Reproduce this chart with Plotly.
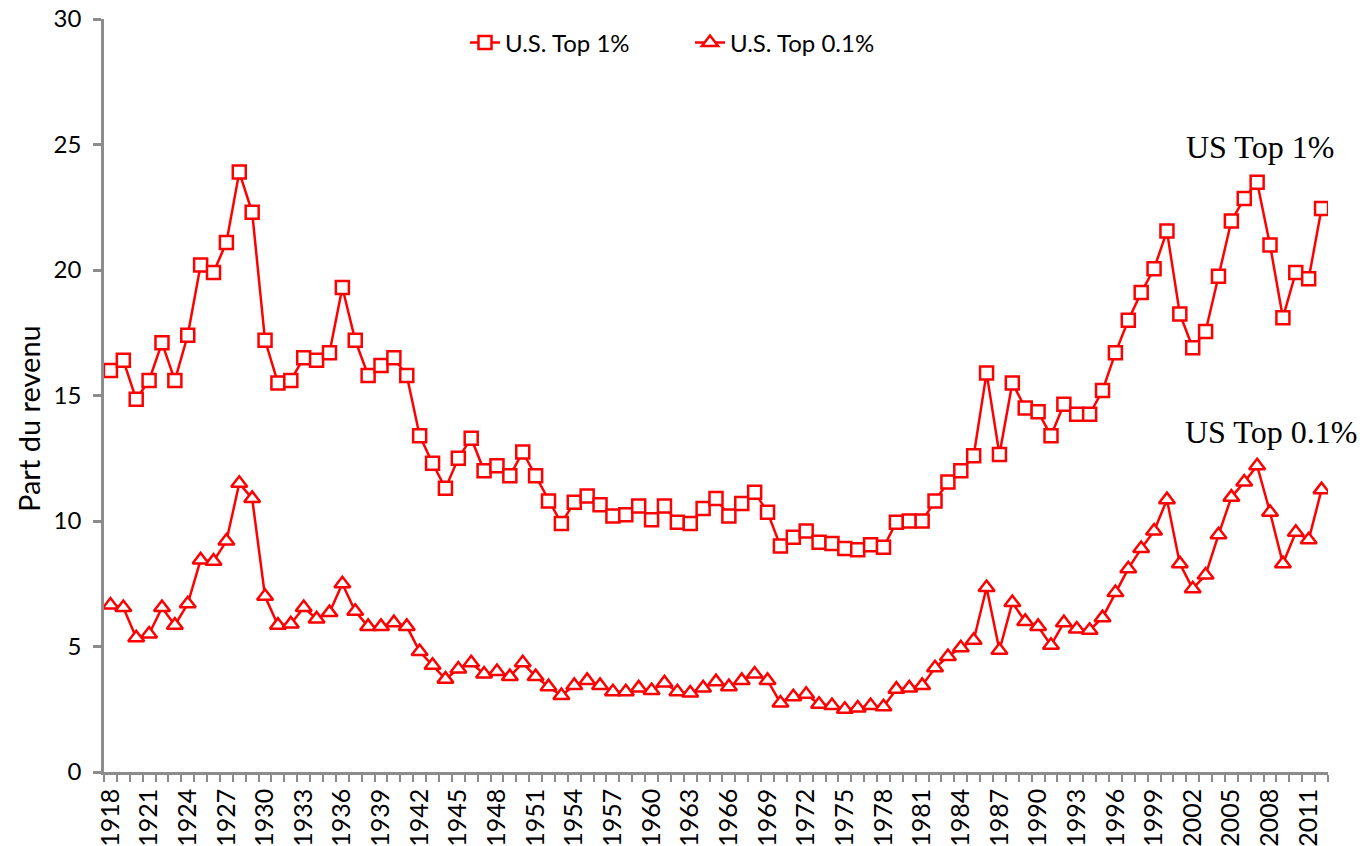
import plotly.graph_objects as go

years = list(range(1918, 2013))

top1 = [16.0, 16.4, 14.85, 15.6, 17.1, 15.6, 17.4, 20.2, 19.9, 21.1,
        23.9, 22.3, 17.2, 15.5, 15.6, 16.5, 16.4, 16.7, 19.3, 17.2,
        15.8, 16.2, 16.5, 15.8, 13.4, 12.3, 11.3, 12.5, 13.3, 12.0,
        12.2, 11.8, 12.75, 11.8, 10.8, 9.9, 10.75, 11.0, 10.65, 10.2,
        10.25, 10.6, 10.05, 10.6, 9.95, 9.9, 10.5, 10.9, 10.2, 10.7,
        11.15, 10.35, 9.0, 9.35, 9.6, 9.15, 9.1, 8.9, 8.85, 9.05,
        8.95, 9.95, 10.0, 10.0, 10.8, 11.55, 12.0, 12.6, 15.9, 12.65,
        15.5, 14.5, 14.35, 13.4, 14.65, 14.25, 14.25, 15.2, 16.7, 18.0,
        19.1, 20.05, 21.55, 18.25, 16.9, 17.55, 19.75, 21.95, 22.85, 23.5,
        21.0, 18.1, 19.9, 19.65, 22.45]

top01 = [6.65, 6.55, 5.35, 5.5, 6.55, 5.85, 6.7, 8.45, 8.4, 9.2,
         11.5, 10.9, 7.0, 5.85, 5.9, 6.55, 6.1, 6.35, 7.5, 6.4,
         5.8, 5.8, 5.95, 5.8, 4.8, 4.25, 3.7, 4.1, 4.35, 3.9,
         4.0, 3.8, 4.35, 3.8, 3.4, 3.05, 3.45, 3.65, 3.45, 3.2,
         3.2, 3.35, 3.25, 3.55, 3.2, 3.15, 3.35, 3.6, 3.4, 3.65,
         3.9, 3.65, 2.75, 3.0, 3.1, 2.7, 2.65, 2.5, 2.55, 2.65,
         2.6, 3.3, 3.35, 3.45, 4.15, 4.6, 4.95, 5.25, 7.35, 4.85,
         6.75, 6.0, 5.8, 5.05, 5.95, 5.7, 5.65, 6.15, 7.15, 8.1,
         8.9, 9.6, 10.85, 8.3, 7.3, 7.85, 9.45, 10.95, 11.55, 12.2,
         10.35, 8.3, 9.55, 9.25, 11.25]

tick_years = list(range(1918, 2012, 3))
y_ticks = [0, 5, 10, 15, 20, 25, 30]

RED = "#FF0000"
GRAY = "#8C8C8C"
SANS = "Lato, Liberation Sans, sans-serif"

fig = go.Figure()
fig.add_trace(go.Scatter(
    x=years, y=top1, mode="lines+markers", name="U.S. Top 1%",
    line=dict(color=RED, width=2.5),
    marker=dict(symbol="square", size=13, color="white",
                line=dict(color=RED, width=2.5)),
))
fig.add_trace(go.Scatter(
    x=years, y=top01, mode="lines+markers", name="U.S. Top 0.1%",
    line=dict(color=RED, width=2.5),
    marker=dict(symbol="triangle-up", size=14, color="white",
                line=dict(color=RED, width=2.5)),
))

fig.add_annotation(x=2007.2, y=24.9, text="US Top 1%", showarrow=False,
                   xanchor="center", yanchor="middle",
                   font=dict(family="Liberation Serif", size=32, color="black"))
fig.add_annotation(x=2008.1, y=13.55, text="US Top 0.1%", showarrow=False,
                   xanchor="center", yanchor="middle",
                   font=dict(family="Liberation Serif", size=32, color="black"))
fig.add_annotation(xref="paper", yref="paper", x=(28 - 104) / 1224, y=(772 - 419) / 753,
                   text="Part du revenu", textangle=-90, showarrow=False,
                   xanchor="center", yanchor="middle",
                   font=dict(family=SANS, size=29, color="black"))

fig.update_layout(
    width=1360, height=846,
    margin=dict(l=104, r=32, t=19, b=74),
    paper_bgcolor="white", plot_bgcolor="white",
    font=dict(family=SANS, size=24, color="black"),
    showlegend=True,
    legend=dict(orientation="h", x=(690 - 104) / 1224, y=(772 - 43) / 753,
                xanchor="center", yanchor="middle", entrywidth=180,
                font=dict(size=24), bgcolor="rgba(0,0,0,0)"),
    xaxis=dict(
        range=[1917.5, 2012.5], tickmode="array", tickvals=tick_years,
        ticktext=[str(y) for y in tick_years], tickangle=-90,
        ticks="", showgrid=False, zeroline=False, automargin=False,
        showline=True, linecolor=GRAY, linewidth=2.5,
        minor=dict(ticks="outside", tick0=1917.5, dtick=1, ticklen=7,
                   tickcolor=GRAY, tickwidth=2, showgrid=False),
        tickfont=dict(size=25), ticklabelstandoff=4,
    ),
    yaxis=dict(
        range=[0, 30], tickmode="array", tickvals=y_ticks,
        ticks="outside", ticklen=8, tickcolor=GRAY, tickwidth=2.5,
        showgrid=False, zeroline=False, automargin=False,
        showline=True, linecolor=GRAY, linewidth=2.5,
        tickfont=dict(size=24), ticklabelstandoff=7,
    ),
)

fig.write_html("out.html", config={"displayModeBar": False},
               post_script="document.body.style.margin='0';document.body.style.overflow='hidden';")
